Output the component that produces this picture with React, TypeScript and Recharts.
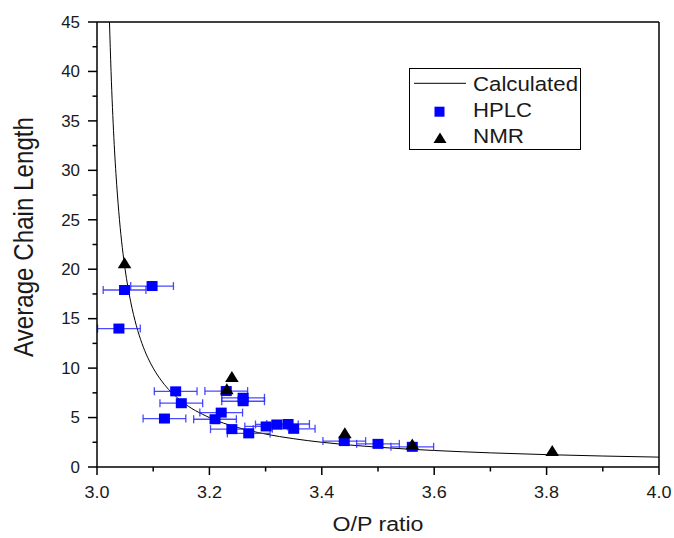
import React from 'react';
import { ComposedChart, Line, Scatter, XAxis, YAxis, ErrorBar, ReferenceLine, Legend, Label } from 'recharts';

// Calculated curve
const calcX = [3.0222, 3.025, 3.03, 3.035, 3.04, 3.045, 3.05, 3.06, 3.07, 3.08, 3.09, 3.1, 3.12, 3.15, 3.2, 3.25, 3.3, 3.35, 3.4, 3.5, 3.6, 3.7, 3.8, 3.9, 4.0];
const calcY = [45, 40, 33.3, 28.6, 25, 22.2, 20, 16.7, 14.3, 12.5, 11.1, 10, 8.33, 6.67, 5, 4, 3.33, 2.86, 2.5, 2, 1.67, 1.43, 1.25, 1.11, 1];

// HPLC points with horizontal error
const hplcX = [3.039, 3.049, 3.098, 3.12, 3.14, 3.15, 3.21, 3.221, 3.23, 3.24, 3.26, 3.26, 3.27, 3.301, 3.32, 3.34, 3.35, 3.44, 3.5, 3.561];
const hplcY = [14.0, 17.9, 18.3, 4.9, 7.65, 6.45, 4.83, 5.5, 7.68, 3.83, 7.0, 6.65, 3.4, 4.1, 4.3, 4.35, 3.86, 2.62, 2.34, 2.04];
const hplcErr = [0.038, 0.038, 0.038, 0.038, 0.038, 0.038, 0.038, 0.038, 0.038, 0.038, 0.038, 0.038, 0.038, 0.038, 0.038, 0.038, 0.038, 0.038, 0.038, 0.038];

// NMR points
const nmrX = [3.049, 3.231, 3.24, 3.441, 3.561, 3.81];
const nmrY = [20.6, 7.85, 9.1, 3.42, 2.28, 1.62];

const xTicks = [3.0, 3.1, 3.2, 3.3, 3.4, 3.5, 3.6, 3.7, 3.8, 3.9, 4.0];
const yTicks = [0, 2.5, 5, 7.5, 10, 12.5, 15, 17.5, 20, 22.5, 25, 27.5, 30, 32.5, 35, 37.5, 40, 42.5, 45];

const calcData = calcX.map((x, i) => ({ x, y: calcY[i] }));
const hplcData = hplcX.map((x, i) => ({ x, y: hplcY[i], ex: hplcErr[i] }));
const nmrData = nmrX.map((x, i) => ({ x, y: nmrY[i] }));

const FONT = '"Liberation Sans", Arial, sans-serif';
const TXT = '#1a1a1a';

const XTick = (props: any) => {
  const { x, y, payload } = props;
  const v = payload.value as number;
  const major = Math.abs(v * 5 - Math.round(v * 5)) < 1e-6;
  return (
    <g>
      <line x1={x} y1={y} x2={x} y2={y + (major ? 8 : 4.5)} stroke="#000" strokeWidth={1.5} />
      {major && (
        <text x={x} y={y + 30.5} textAnchor="middle" fontSize={16} fontFamily={FONT} fill={TXT}
          textLength={25} lengthAdjust="spacingAndGlyphs">{v.toFixed(1)}</text>
      )}
    </g>
  );
};

const YTick = (props: any) => {
  const { x, y, payload } = props;
  const v = payload.value as number;
  const major = Math.abs(v / 5 - Math.round(v / 5)) < 1e-6;
  const s = String(v);
  return (
    <g>
      <line x1={x - (major ? 9 : 4.5)} y1={y} x2={x} y2={y} stroke="#000" strokeWidth={1.5} />
      {major && (
        <text x={x - 17} y={y + 5.8} textAnchor="end" fontSize={16} fontFamily={FONT} fill={TXT}
          textLength={s.length * 9.4} lengthAdjust="spacingAndGlyphs">{s}</text>
      )}
    </g>
  );
};

const Square = (props: any) => {
  const { cx, cy } = props;
  if (cx == null || cy == null) return null;
  return <rect x={cx - 5.5} y={cy - 5} width={11} height={10} fill="#0000ff" />;
};

const Triangle = (props: any) => {
  const { cx, cy } = props;
  if (cx == null || cy == null) return null;
  return <polygon points={`${cx},${cy - 6} ${cx - 6.8},${cy + 5} ${cx + 6.8},${cy + 5}`} fill="#000" />;
};

const LegendBox = () => (
  <svg width={172} height={82} style={{ display: 'block' }}>
    <rect x={0.5} y={0.5} width={171} height={81} fill="#fff" stroke="#000" strokeWidth={1} />
    <line x1={5} y1={15.3} x2={57} y2={15.3} stroke="#000" strokeWidth={1} />
    <text x={64} y={22.7} fontSize={20.5} fontFamily={FONT} fill={TXT} textLength={105} lengthAdjust="spacingAndGlyphs">Calculated</text>
    <rect x={25.5} y={38.7} width={10} height={10} fill="#0000ff" />
    <text x={64} y={48.7} fontSize={20.5} fontFamily={FONT} fill={TXT} textLength={59} lengthAdjust="spacingAndGlyphs">HPLC</text>
    <polygon points="31,64.5 24.5,75 37.5,75" fill="#000" />
    <text x={64} y={75.3} fontSize={20.5} fontFamily={FONT} fill={TXT} textLength={51} lengthAdjust="spacingAndGlyphs">NMR</text>
  </svg>
);

const XTitle = () => (
  <text x={378} y={531} textAnchor="middle" fontSize={19.5} fontFamily={FONT} fill={TXT}
    textLength={91} lengthAdjust="spacingAndGlyphs">O/P ratio</text>
);

const YTitle = () => (
  <text transform="translate(33,237) scale(1.16,1) rotate(-90)" x={0} y={0} textAnchor="middle" fontSize={24}
    fontFamily={FONT} fill={TXT} textLength={240} lengthAdjust="spacingAndGlyphs">Average Chain Length</text>
);

export default function App() {
  return (
    <div style={{ position: 'absolute', left: 0, top: 0, background: '#fff' }}>
      <ComposedChart width={674} height={538} margin={{ top: 22, right: 15, bottom: 0, left: 0 }}
        style={{ fontFamily: FONT, background: '#fff' }}>
        <XAxis dataKey="x" type="number" domain={[3, 4]} ticks={xTicks} interval={0} height={71}
          tickSize={0} tickMargin={0} tickLine={false} tick={<XTick />}
          axisLine={{ stroke: '#000', strokeWidth: 1.5 }} allowDataOverflow>
          <Label content={<XTitle />} />
        </XAxis>
        <YAxis dataKey="y" type="number" domain={[0, 45]} ticks={yTicks} interval={0} width={97}
          tickSize={0} tickMargin={0} tickLine={false} tick={<YTick />}
          axisLine={{ stroke: '#000', strokeWidth: 1.5 }} allowDataOverflow>
          <Label content={<YTitle />} />
        </YAxis>
        <ReferenceLine y={45} stroke="#000" strokeWidth={1.5} />
        <ReferenceLine x={4} stroke="#000" strokeWidth={1.5} />
        <Line data={calcData} dataKey="y" type="monotone" stroke="#000" strokeWidth={1} dot={false}
          activeDot={false} isAnimationActive={false} />
        <Scatter data={hplcData} dataKey="y" shape={<Square />} isAnimationActive={false}>
          <ErrorBar dataKey="ex" direction="x" width={4} stroke="#2a2aff" strokeWidth={1.3} strokeOpacity={0.85} />
        </Scatter>
        <Scatter data={nmrData} dataKey="y" shape={<Triangle />} isAnimationActive={false} />
        <Legend layout="vertical" align="center" verticalAlign="middle"
          wrapperStyle={{ left: 409, top: 68, width: 172, height: 82 }}
          content={() => <LegendBox />} />
      </ComposedChart>
    </div>
  );
}
